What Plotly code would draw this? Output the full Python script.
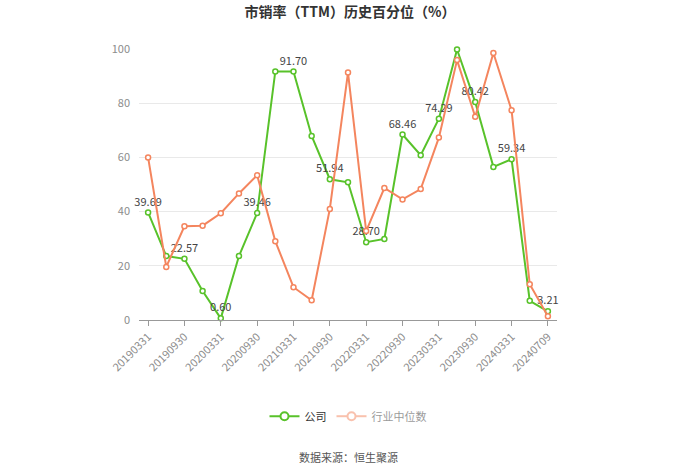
import plotly.graph_objects as go

dates = ["20190331", "20190630", "20190930", "20191231", "20200331", "20200630",
         "20200930", "20201231", "20210331", "20210630", "20210930", "20211231",
         "20220331", "20220630", "20220930", "20221231", "20230331", "20230630",
         "20230930", "20231231", "20240331", "20240630", "20240709"]
company = [39.69, 23.6, 22.57, 10.7, 0.60, 23.6, 39.46, 91.70, 91.70, 67.9, 51.94, 50.8,
           28.70, 29.9, 68.46, 60.8, 74.29, 99.8, 80.42, 56.5, 59.34, 7.1, 3.21]
industry = [60.0, 19.6, 34.6, 34.8, 39.4, 46.7, 53.4, 29.1, 12.1, 7.3, 41.0, 91.3,
            32.8, 48.7, 44.5, 48.3, 67.3, 95.9, 75.0, 98.5, 77.4, 13.2, 1.4]
tick_labels = dates[::2]
y_ticks = [0, 20, 40, 60, 80, 100]

GREEN = "#58c22a"
ORANGE = "#f4855e"
FONT = "Noto Sans CJK SC"

labels = [f"{v:.2f}" if i % 2 == 0 else "" for i, v in enumerate(company)]

fig = go.Figure()
fig.add_trace(go.Scatter(
    x=dates, y=company, mode="lines+markers+text", name="公司",
    line=dict(color=GREEN, width=2),
    marker=dict(symbol="circle", size=5, color="white", line=dict(color=GREEN, width=1.5)),
    text=labels, textposition="top center",
    textfont=dict(color="#444", size=11, family=FONT),
    cliponaxis=False, showlegend=False,
))
fig.add_trace(go.Scatter(
    x=dates, y=industry, mode="lines+markers", name="行业中位数",
    line=dict(color=ORANGE, width=2),
    marker=dict(symbol="circle", size=5, color="white", line=dict(color=ORANGE, width=1.5)),
    showlegend=False, cliponaxis=False,
))
# legend entries
fig.add_trace(go.Scatter(
    x=[None], y=[None], mode="lines+markers", name="公司",
    line=dict(color=GREEN, width=2),
    marker=dict(symbol="circle", size=8, color="white", line=dict(color=GREEN, width=2)),
))
fig.add_trace(go.Scatter(
    x=[None], y=[None], mode="lines+markers", name="行业中位数",
    line=dict(color=ORANGE, width=2),
    marker=dict(symbol="circle", size=8, color="white", line=dict(color=ORANGE, width=2)),
    visible="legendonly",
))

fig.update_layout(
    width=700, height=474,
    margin=dict(l=139, r=143, t=49, b=154),
    paper_bgcolor="white", plot_bgcolor="white",
    font=dict(family=FONT, color="#999"),
    title=dict(text="<b>市销率（TTM）历史百分位（%）</b>", x=0.5, xanchor="center",
               y=1 - 12 / 474, yanchor="middle",
               font=dict(size=14, color="#333", family=FONT)),
    showlegend=True,
    legend=dict(orientation="h", x=0.5, xanchor="center", y=-0.355, yanchor="middle",
                font=dict(size=11, color="#333", family=FONT), itemclick=False,
                itemdoubleclick=False, itemwidth=30),
    xaxis=dict(
        type="category", range=[-0.5, len(dates) - 0.5],
        tickmode="array", tickvals=tick_labels, ticktext=tick_labels,
        tickangle=-45, tickfont=dict(size=11, color="#8c8c8c"),
        showgrid=False, showline=True, linecolor="#999", linewidth=1,
        ticks="outside", ticklen=5, tickcolor="#999",
    ),
    yaxis=dict(
        range=[0, 100], tickvals=y_ticks, tickfont=dict(size=11, color="#8c8c8c"),
        showgrid=True, gridcolor="#e9e9e9", zeroline=False, showline=False,
        ticks="", ticklabelstandoff=8,
    ),
    annotations=[dict(text="数据来源：恒生聚源", x=0.5, xref="paper",
                      y=-(457 - 320) / (320 - 49), yref="paper", yanchor="middle",
                      showarrow=False, font=dict(size=11, color="#555", family=FONT))],
)

fig.write_html("out.html")
